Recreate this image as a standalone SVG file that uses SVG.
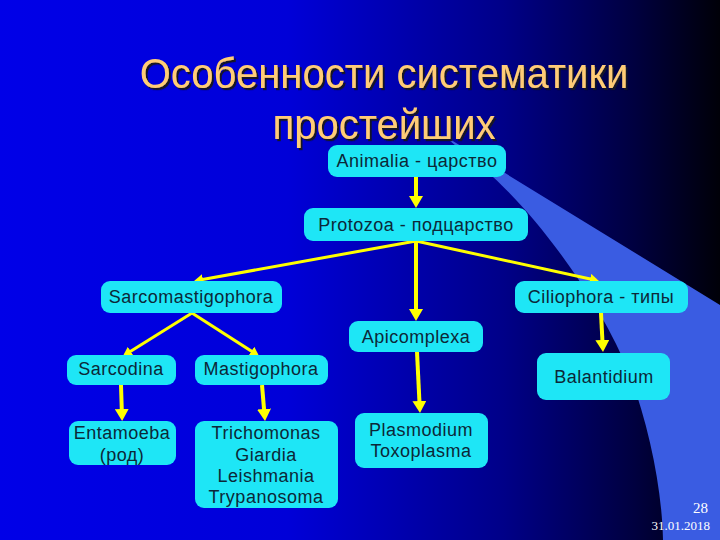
<svg xmlns="http://www.w3.org/2000/svg" width="720" height="540" viewBox="0 0 720 540">
  <defs>
    <linearGradient id="bg" x1="0" y1="0" x2="1" y2="0">
      <stop offset="0" stop-color="#0000e8"/>
      <stop offset="0.4" stop-color="#0000d8"/>
      <stop offset="0.7" stop-color="#000088"/>
      <stop offset="0.88" stop-color="#000040"/>
      <stop offset="1" stop-color="#000008"/>
    </linearGradient>
    <filter id="sh" x="-5%" y="-20%" width="110%" height="150%">
      <feDropShadow dx="2" dy="2" stdDeviation="0.6" flood-color="#141428" flood-opacity="1"/>
    </filter>
    <marker id="ah" viewBox="0 0 3 3.5" refX="2" refY="1.75" markerWidth="3" markerHeight="3.5" orient="auto" markerUnits="strokeWidth">
      <path d="M0,0 L3,1.75 L0,3.5 Z" fill="#ffff00"/>
    </marker>
    <style>
      .title { font-family: "Liberation Sans", Arial, sans-serif; font-size: 40px; fill: #ffcc77; text-anchor: middle; filter: url(#sh); }
      .box { fill: #1ee6f6; }
      .lbl { font-family: "Liberation Sans", Arial, sans-serif; font-size: 18px; letter-spacing: 0.5px; fill: #0c2838; text-anchor: middle; }
      .conn line { stroke: #ffff00; stroke-width: 4; marker-end: url(#ah); }
      .conn line.thin { stroke-width: 3; }
      .foot { font-family: "Liberation Serif", "Times New Roman", serif; fill: #ffffff; text-anchor: end; }
    </style>
  </defs>

  <rect width="720" height="540" fill="url(#bg)"/>
  <path d="M443,135 L493,177 C540,220 600,300 630,375 C650,430 662,490 663,540 L720,540 L720,305 Z" fill="#3a5ce2"/>

  <g id="title">
    <text class="title" transform="translate(384,88) scale(1,1.08)">Особенности систематики</text>
    <text class="title" transform="translate(384,139) scale(1,1.08)">простейших</text>
  </g>

  <g class="conn" id="connectors">
    <line x1="416" y1="176" x2="416" y2="204"/>
    <line class="thin" x1="416" y1="241" x2="197" y2="280.5"/>
    <line class="thin" x1="416" y1="241" x2="596" y2="280.3"/>
    <line x1="416" y1="241" x2="416" y2="317"/>
    <line class="thin" x1="192" y1="313" x2="125.5" y2="354.4"/>
    <line class="thin" x1="192" y1="313" x2="256.5" y2="354.4"/>
    <line x1="121" y1="385" x2="122" y2="417"/>
    <line x1="262" y1="385" x2="264.7" y2="417"/>
    <line x1="417" y1="352" x2="419.8" y2="409"/>
    <line x1="601" y1="313" x2="602.8" y2="348"/>
  </g>

  <g id="animalia">
    <rect class="box" x="328" y="145" width="178" height="32" rx="9"/>
    <text class="lbl" x="417" y="167">Animalia - царство</text>
  </g>
  <g id="protozoa">
    <rect class="box" x="304" y="208" width="224" height="33" rx="9"/>
    <text class="lbl" x="416" y="231">Protozoa - подцарство</text>
  </g>
  <g id="sarcomastigophora">
    <rect class="box" x="101" y="281" width="181" height="32" rx="9"/>
    <text class="lbl" x="191" y="303">Sarcomastigophora</text>
  </g>
  <g id="ciliophora">
    <rect class="box" x="515" y="281" width="173" height="32" rx="9"/>
    <text class="lbl" x="601" y="303">Ciliophora - типы</text>
  </g>
  <g id="apicomplexa">
    <rect class="box" x="349" y="321" width="134" height="31" rx="9"/>
    <text class="lbl" x="416" y="343">Apicomplexa</text>
  </g>
  <g id="sarcodina">
    <rect class="box" x="67" y="355" width="109" height="30" rx="9"/>
    <text class="lbl" x="121" y="375">Sarcodina</text>
  </g>
  <g id="mastigophora">
    <rect class="box" x="195" y="355" width="133" height="30" rx="9"/>
    <text class="lbl" x="261" y="375">Mastigophora</text>
  </g>
  <g id="balantidium">
    <rect class="box" x="537" y="353" width="133" height="47" rx="9"/>
    <text class="lbl" x="604" y="383">Balantidium</text>
  </g>
  <g id="entamoeba">
    <rect class="box" x="69" y="421" width="107" height="44" rx="9"/>
    <text class="lbl" x="122" y="439">Entamoeba</text>
    <text class="lbl" x="122" y="461">(род)</text>
  </g>
  <g id="flagellates">
    <rect class="box" x="195" y="421" width="143" height="87" rx="9"/>
    <text class="lbl" x="266" y="439">Trichomonas</text>
    <text class="lbl" x="266" y="461">Giardia</text>
    <text class="lbl" x="266" y="482">Leishmania</text>
    <text class="lbl" x="266" y="503">Trypanosoma</text>
  </g>
  <g id="sporozoa">
    <rect class="box" x="355" y="413" width="133" height="55" rx="9"/>
    <text class="lbl" x="421" y="436">Plasmodium</text>
    <text class="lbl" x="421" y="457">Toxoplasma</text>
  </g>

  <g id="footer">
    <text class="foot" x="708" y="513" font-size="15">28</text>
    <text class="foot" x="710" y="530" font-size="13">31.01.2018</text>
  </g>
</svg>
